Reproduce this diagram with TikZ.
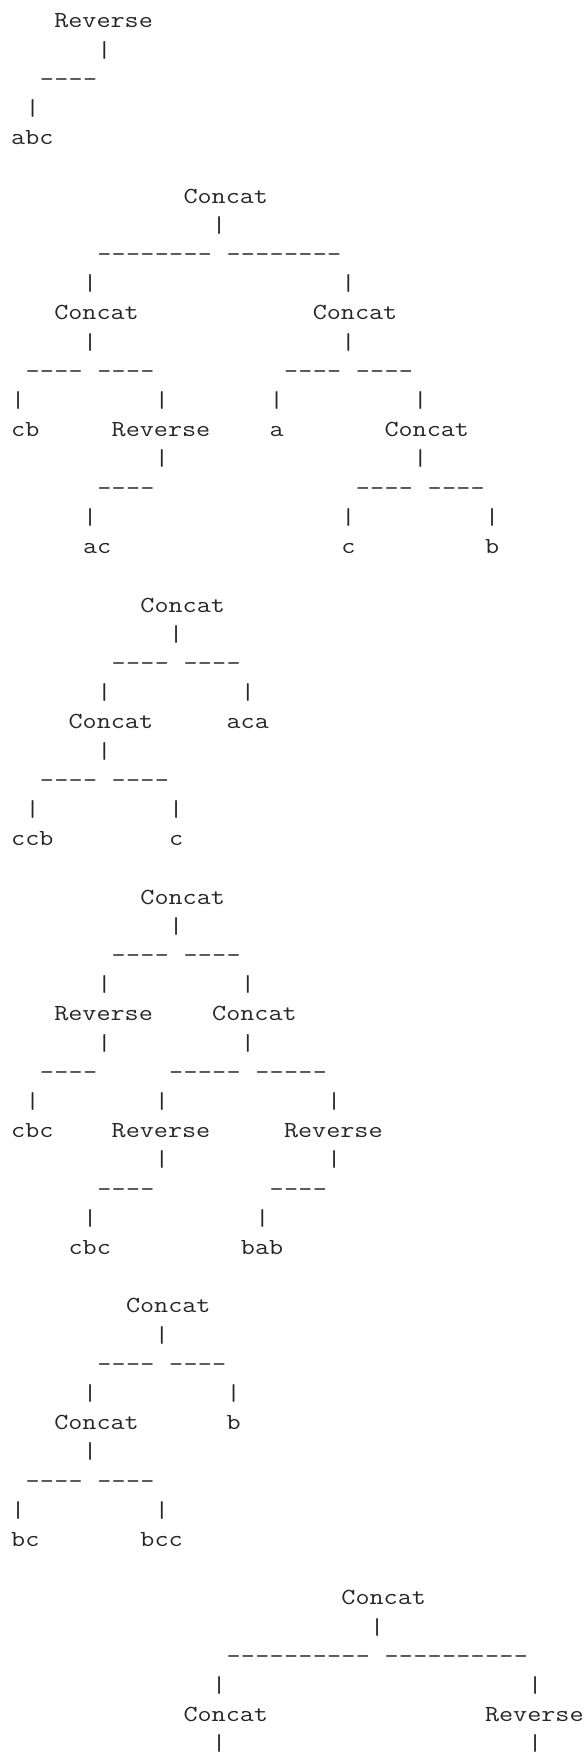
\documentclass[tikz,border=0pt]{standalone}
\usepackage{fontspec}
\tikzset{
  cell/.style={anchor=base west, inner sep=0pt, yscale=0.84, text=black!85,
    font=\fontsize{13.67pt}{14.6pt}\ttfamily},
}
\begin{document}
\begin{tikzpicture}[x=7.18pt, y=-14.6pt]
% page size, one character cell is 7.18pt x 14.6pt
    \useasboundingbox (-5.4pt,14pt) rectangle (288.1pt,-863pt);

% a bar at row #1, column #2
    \def\pipe#1#2{\node[cell] at (#2,#1) {|};}
% a run of dashes at row #1 from column #2 to #3
    \def\dashrun#1#2#3{\foreach \k in {#2,...,#3} {\node[cell] at (\k,#1) {-};}}

% Reverse(abc)
    \node[cell] (aRoot) at (3,0) {Reverse};
    \pipe{1}{6}
    \dashrun{2}{2}{5}
    \pipe{3}{1}
    \node[cell] (aAbc) at (0,4) {abc};

% second tree
    \node[cell] (bRoot) at (12,6) {Concat};
    \pipe{7}{14}
    \dashrun{8}{6}{13} \dashrun{8}{15}{22}
    \foreach \k in {5,23} {\pipe{9}{\k} \pipe{11}{\k}}
    \node[cell] (bLeft) at (3,10) {Concat};
    \node[cell] (bRight) at (21,10) {Concat};
    \dashrun{12}{1}{4} \dashrun{12}{6}{9}
    \dashrun{12}{19}{22} \dashrun{12}{24}{27}
    \foreach \k in {0,10,18,28} {\pipe{13}{\k}}
    \node[cell] (bCb) at (0,14) {cb};
    \node[cell] (bRev) at (7,14) {Reverse};
    \node[cell] (bA) at (18,14) {a};
    \node[cell] (bCat) at (26,14) {Concat};
    \pipe{15}{10} \pipe{15}{28}
    \dashrun{16}{6}{9} \dashrun{16}{24}{27} \dashrun{16}{29}{32}
    \foreach \k in {5,23,33} {\pipe{17}{\k}}
    \node[cell] (bAc) at (5,18) {ac};
    \node[cell] (bC) at (23,18) {c};
    \node[cell] (bB) at (33,18) {b};

% third tree
    \node[cell] (cRoot) at (9,20) {Concat};
    \pipe{21}{11}
    \dashrun{22}{7}{10} \dashrun{22}{12}{15}
    \pipe{23}{6} \pipe{23}{16}
    \node[cell] (cLeft) at (4,24) {Concat};
    \node[cell] (cAca) at (15,24) {aca};
    \pipe{25}{6}
    \dashrun{26}{2}{5} \dashrun{26}{7}{10}
    \pipe{27}{1} \pipe{27}{11}
    \node[cell] (cCcb) at (0,28) {ccb};
    \node[cell] (cC) at (11,28) {c};

% fourth tree
    \node[cell] (dRoot) at (9,30) {Concat};
    \pipe{31}{11}
    \dashrun{32}{7}{10} \dashrun{32}{12}{15}
    \foreach \k in {6,16} {\pipe{33}{\k} \pipe{35}{\k}}
    \node[cell] (dRev) at (3,34) {Reverse};
    \node[cell] (dCat) at (14,34) {Concat};
    \dashrun{36}{2}{5} \dashrun{36}{11}{15} \dashrun{36}{17}{21}
    \foreach \k in {1,10,22} {\pipe{37}{\k}}
    \node[cell] (dCbc) at (0,38) {cbc};
    \node[cell] (dRevL) at (7,38) {Reverse};
    \node[cell] (dRevR) at (19,38) {Reverse};
    \pipe{39}{10} \pipe{39}{22}
    \dashrun{40}{6}{9} \dashrun{40}{18}{21}
    \pipe{41}{5} \pipe{41}{17}
    \node[cell] (dCbcB) at (4,42) {cbc};
    \node[cell] (dBab) at (16,42) {bab};

% fifth tree
    \node[cell] (eRoot) at (8,44) {Concat};
    \pipe{45}{10}
    \dashrun{46}{6}{9} \dashrun{46}{11}{14}
    \pipe{47}{5} \pipe{47}{15}
    \node[cell] (eLeft) at (3,48) {Concat};
    \node[cell] (eB) at (15,48) {b};
    \pipe{49}{5}
    \dashrun{50}{1}{4} \dashrun{50}{6}{9}
    \pipe{51}{0} \pipe{51}{10}
    \node[cell] (eBc) at (0,52) {bc};
    \node[cell] (eBcc) at (9,52) {bcc};

% last tree, runs off the bottom
    \node[cell] (fRoot) at (23,54) {Concat};
    \pipe{55}{25}
    \dashrun{56}{15}{24} \dashrun{56}{26}{35}
    \foreach \k in {14,36} {\pipe{57}{\k} \pipe{59}{\k}}
    \node[cell] (fLeft) at (12,58) {Concat};
    \node[cell] (fRev) at (33,58) {Reverse};

\end{tikzpicture}
\end{document}
